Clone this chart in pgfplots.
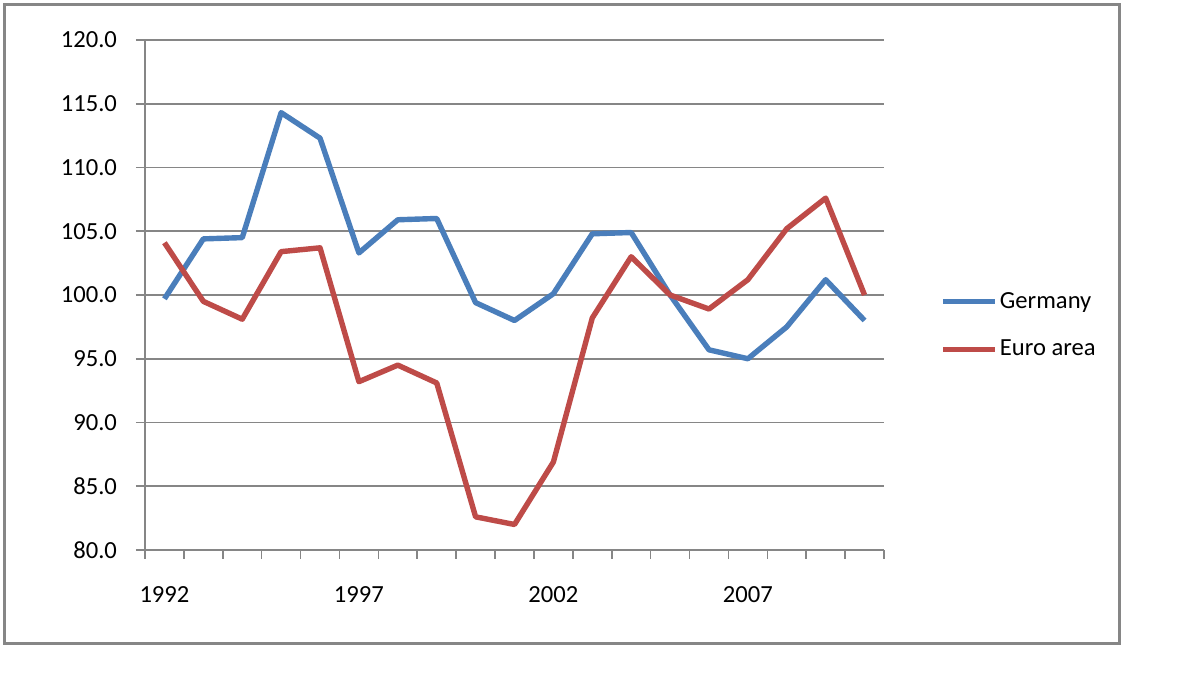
\documentclass[border=0pt]{standalone}
\usepackage{pgfplots}
\pgfplotsset{compat=1.18}
\usepackage{fontspec}
\setmainfont{Carlito}
\definecolor{gerblue}{HTML}{4A7EBB}
\definecolor{eured}{HTML}{BE4B48}
\definecolor{axgray}{HTML}{868686}
\begin{document}
\begin{tikzpicture}
\useasboundingbox (0,0) rectangle (598pt,336.5pt);
\draw[axgray, line width=1.5pt] (2pt,14.5pt) rectangle (559.5pt,334pt);
\begin{axis}[
  at={(72.5pt,61.5pt)}, anchor=south west,
  scale only axis, width=369.5pt, height=255pt,
  xmin=-0.5, xmax=18.5, ymin=80, ymax=120,
  axis x line=bottom, axis y line=left,
  axis line style={-, axgray, line width=0.8pt},
  tick align=outside, major tick length=4.5pt,
  tick style={axgray, line width=0.8pt},
  xtick={-0.5,0.5,...,18.5}, xticklabels={},
  extra x ticks={0,5,10,15},
  extra x tick labels={1992,1997,2002,2007},
  extra x tick style={major tick length=0pt, xticklabel style={yshift=-14.5pt}},
  ytick={80,85,...,120},
  ymajorgrids, grid style={axgray, line width=0.8pt},
  yticklabel style={xshift=-6pt, /pgf/number format/.cd, fixed, fixed zerofill, precision=1},
  /pgf/number format/assume math mode=true,
  ticklabel style={font=\fontsize{12.3}{14}\selectfont, text=black},
  legend style={draw=none, fill=none, at={(1.076,0.44)}, anchor=west,
    font=\fontsize{12.3}{14}\selectfont, row sep=12.5pt, inner sep=0pt,
    nodes={inner sep=1pt, anchor=west}},
  legend cell align=left,
  legend image code/.code={\draw[#1, line width=2.7pt] (0pt,0pt) -- (26pt,0pt);},
]
\addplot[gerblue, line width=2.7pt, line join=round] coordinates {
(0,99.7) (1,104.4) (2,104.5) (3,114.3) (4,112.3) (5,103.3) (6,105.9) (7,106.0)
(8,99.4) (9,98.0) (10,100.1) (11,104.8) (12,104.9) (13,100.0) (14,95.7)
(15,95.0) (16,97.5) (17,101.2) (18,98.0)};
\addlegendentry{Germany}
\addplot[eured, line width=2.7pt, line join=round] coordinates {
(0,104.1) (1,99.5) (2,98.1) (3,103.4) (4,103.7) (5,93.2) (6,94.5) (7,93.1)
(8,82.6) (9,82.0) (10,86.9) (11,98.2) (12,103.0) (13,100.0) (14,98.9)
(15,101.2) (16,105.2) (17,107.6) (18,100.0)};
\addlegendentry{Euro area}
\end{axis}
\end{tikzpicture}
\end{document}
